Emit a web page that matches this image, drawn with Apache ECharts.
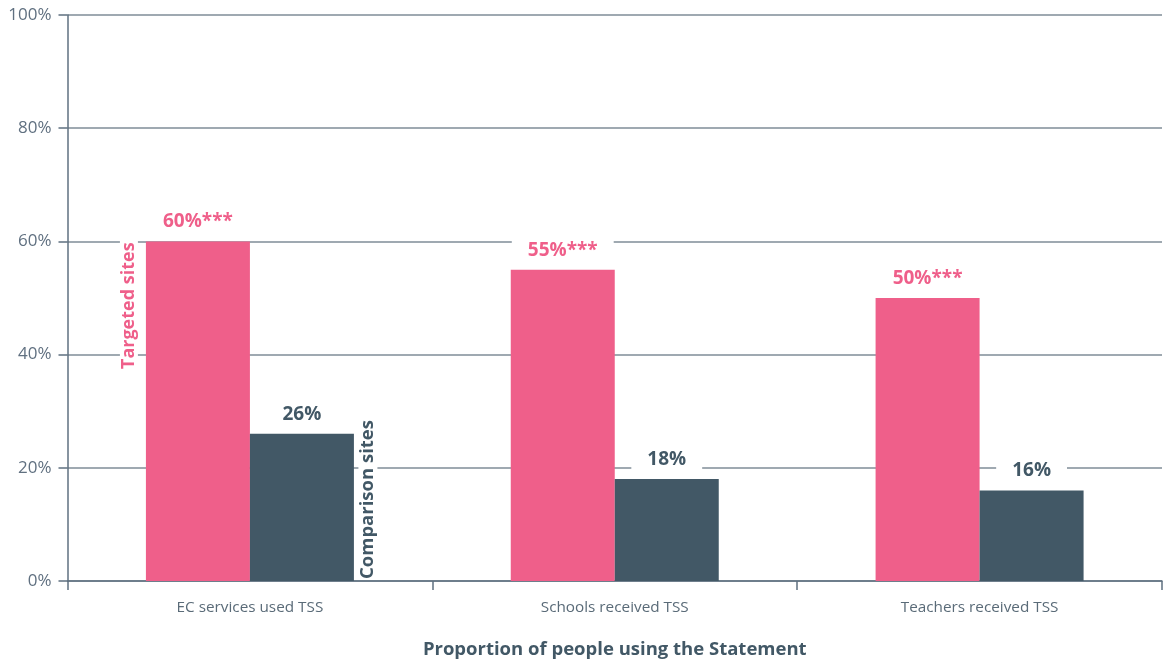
<!DOCTYPE html>
<html>
<head>
<meta charset="utf-8">
<script src="https://cdn.jsdelivr.net/npm/echarts@6/dist/echarts.min.js"></script>
<style>
  html, body { margin: 0; padding: 0; background: #ffffff; }
  #chart { width: 1170px; height: 661px; }
</style>
</head>
<body>
<div id="chart"></div>
<script>
// Categories and values (percent)
const categories = ['EC services used TSS', 'Schools received TSS', 'Teachers received TSS'];
const targetedValues = [60, 55, 50];
const comparisonValues = [26, 18, 16];
const targetedLabels = ['60%***', '55%***', '50%***'];
const comparisonLabels = ['26%', '18%', '16%'];
const yTicks = [0, 20, 40, 60, 80, 100];

const PINK = '#ef5f8a';
const SLATE = '#425866';
const AXIS = '#5f7080';
const GRID = '#7f8c97';
const FONT = '"Open Sans", "Noto Sans", sans-serif';

const chart = echarts.init(document.getElementById('chart'), null, { renderer: 'canvas' });

function valueLabel(color, texts) {
  return {
    show: true,
    position: 'top',
    distance: 8,
    color: color,
    fontFamily: FONT,
    fontWeight: 'bold',
    fontSize: 19,
    backgroundColor: '#ffffff',
    padding: [2, 16, 2, 16],
    formatter: p => texts[p.dataIndex]
  };
}

chart.setOption({
  animation: false,
  backgroundColor: '#ffffff',
  grid: { left: 67.5, right: 8, top: 15, bottom: 80, containLabel: false, outerBoundsMode: 'none' },
  xAxis: {
    type: 'category',
    data: categories,
    name: 'Proportion of people using the Statement',
    nameLocation: 'middle',
    nameGap: 59,
    nameTextStyle: { color: SLATE, fontFamily: FONT, fontWeight: 'bold', fontSize: 18.5 },
    axisLine: { show: true, lineStyle: { color: AXIS, width: 1.5 } },
    axisTick: { show: true, length: 9, lineStyle: { color: AXIS, width: 1.5 } },
    axisLabel: { color: '#5a6b78', fontFamily: FONT, fontSize: 15.3, margin: 19 },
    splitLine: { show: false }
  },
  yAxis: {
    type: 'value',
    min: yTicks[0],
    max: yTicks[yTicks.length - 1],
    interval: yTicks[1] - yTicks[0],
    axisLine: { show: true, lineStyle: { color: AXIS, width: 1.5 } },
    axisTick: { show: true, length: 9, lineStyle: { color: AXIS, width: 1.5 } },
    axisLabel: { color: '#607080', fontFamily: FONT, fontSize: 17, margin: 16, formatter: '{value}%' },
    splitLine: { show: true, lineStyle: { color: GRID, width: 1.5 } }
  },
  series: [
    {
      name: 'Targeted sites',
      type: 'bar',
      data: targetedValues,
      barWidth: 104,
      barGap: '0%',
      itemStyle: { color: PINK },
      label: valueLabel(PINK, targetedLabels)
    },
    {
      name: 'Comparison sites',
      type: 'bar',
      data: comparisonValues,
      barWidth: 104,
      barGap: '0%',
      itemStyle: { color: SLATE },
      label: valueLabel(SLATE, comparisonLabels)
    }
  ]
});

// Series names written vertically beside the first pair of bars,
// positioned from the bars' own layout.
const pinkLayout = chart.getModel().getSeriesByIndex(0).getData().getItemLayout(0);
const slateLayout = chart.getModel().getSeriesByIndex(1).getData().getItemLayout(0);
const baseY = slateLayout.y; // bar origin (zero line)
const pinkTop = pinkLayout.y + pinkLayout.height;
const slateRight = slateLayout.x + slateLayout.width;

chart.setOption({
  graphic: [
    {
      type: 'text',
      x: pinkLayout.x - 17,
      y: pinkTop - 1,
      rotation: Math.PI / 2,
      z: 10,
      style: {
        text: 'Targeted sites',
        fill: PINK,
        font: 'bold 18px ' + FONT,
        align: 'right',
        verticalAlign: 'middle',
        backgroundColor: '#ffffff',
        padding: [0, 2, 0, 2]
      }
    },
    {
      type: 'text',
      x: slateRight + 14,
      y: baseY - 2,
      rotation: Math.PI / 2,
      z: 10,
      style: {
        text: 'Comparison sites',
        fill: SLATE,
        font: 'bold 18.5px ' + FONT,
        align: 'left',
        verticalAlign: 'middle',
        backgroundColor: '#ffffff',
        padding: [0, 4, 0, 0]
      }
    }
  ]
});
</script>
</body>
</html>
